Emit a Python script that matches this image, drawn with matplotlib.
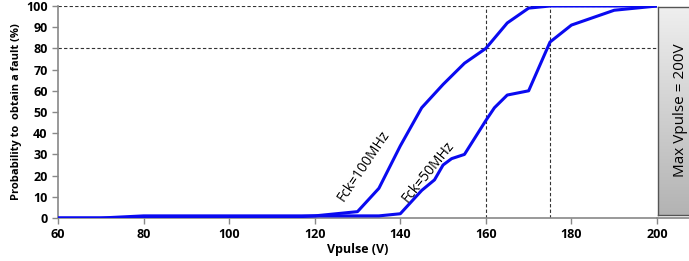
import matplotlib
matplotlib.use("Agg")
import matplotlib.pyplot as plt
import numpy as np
from matplotlib.lines import Line2D

v_100 = [60, 70, 80, 90, 100, 110, 120, 125, 130, 135, 140, 145, 150, 155, 160, 165, 170, 175, 180, 190, 200]
p_100 = [0, 0, 1, 1, 1, 1, 1, 2, 3, 14, 34, 52, 63, 73, 80, 92, 99, 100, 100, 100, 100]
v_50 = [60, 70, 80, 90, 100, 110, 120, 130, 135, 140, 145, 148, 150, 152, 155, 160, 162, 165, 170, 175, 180, 190, 200]
p_50 = [0, 0, 0, 0, 0, 0, 1, 1, 1, 2, 13, 18, 25, 28, 30, 46, 52, 58, 60, 83, 91, 98, 100]
x_ticks = [60, 80, 100, 120, 140, 160, 180, 200]
y_ticks = [0, 10, 20, 30, 40, 50, 60, 70, 80, 90, 100]
h_refs = [80, 100]
v_refs = [160, 175]

plt.rcParams['font.family'] = ['Open Sans', 'DejaVu Sans']

fig = plt.figure(figsize=(6.89, 2.61), dpi=100)
ax = fig.add_axes([58/689, 1-218/261, (657-58)/689, (218-6)/261])

for h in h_refs:
    ax.axhline(h, color='#333333', ls=(0, (3, 2)), lw=0.8, zorder=1)
for v in v_refs:
    ax.axvline(v, color='#333333', ls=(0, (3, 2)), lw=0.8, zorder=1)

ax.plot(v_50, p_50, color='#0a0af0', lw=2.2, zorder=3)
ax.plot(v_100, p_100, color='#0a0af0', lw=2.2, zorder=3)

ax.set_xlim(60, 200)
ax.set_ylim(0, 100)
ax.set_xticks(x_ticks)
ax.set_yticks(y_ticks)
ax.tick_params(axis='both', labelsize=9, colors='#888888', length=4, width=1)
for lab in ax.get_xticklabels() + ax.get_yticklabels():
    lab.set_color('black')
    lab.set_fontweight('bold')
ax.spines['top'].set_visible(False)
ax.spines['right'].set_visible(False)
ax.spines['left'].set_color('#888888')
ax.spines['bottom'].set_color('#888888')
ax.spines['left'].set_linewidth(1.2)
ax.spines['bottom'].set_linewidth(1.2)

ax.set_xlabel('Vpulse (V)', fontsize=9, fontweight='bold', labelpad=1)
ax.set_ylabel('Probability to  obtain a fault (%)', fontsize=8, fontweight='bold', labelpad=3)

ax.text(131.5, 24.5, 'Fck=100MHz', rotation=56, fontsize=10, ha='center', va='center',
        rotation_mode='anchor', zorder=4)
ax.text(146.5, 21.5, 'Fck=50MHz', rotation=51, fontsize=10, ha='center', va='center',
        rotation_mode='anchor', zorder=4)

# extend bottom line beyond axes
fig.add_artist(Line2D([657/689, 1.0], [1-218/261, 1-218/261], color='#888888', lw=1.2,
                      transform=fig.transFigure))

# gradient box (light at top, darker at bottom)
bx0, by0, bx1, by1 = 658/689, 1-215/261, 1.02, 1-7/261
grad = np.linspace(0, 1, 256).reshape(-1, 1)
bax = fig.add_axes([bx0, by0, bx1-bx0, by1-by0])
bax.imshow(grad, aspect='auto', origin='upper', extent=[0, 1, 0, 1],
           cmap=matplotlib.colors.LinearSegmentedColormap.from_list('g', ['#efefef', '#b3b3b3']))
bax.set_xlim(0, 1)
bax.set_ylim(0, 1)
bax.set_xticks([])
bax.set_yticks([])
for s in bax.spines.values():
    s.set_color('#555555')
    s.set_linewidth(1.0)
fig.text(681/689, 1-110/261, 'Max Vpulse = 200V', rotation=90, fontsize=11,
         ha='center', va='center')

fig.savefig('out.png', dpi=100)
